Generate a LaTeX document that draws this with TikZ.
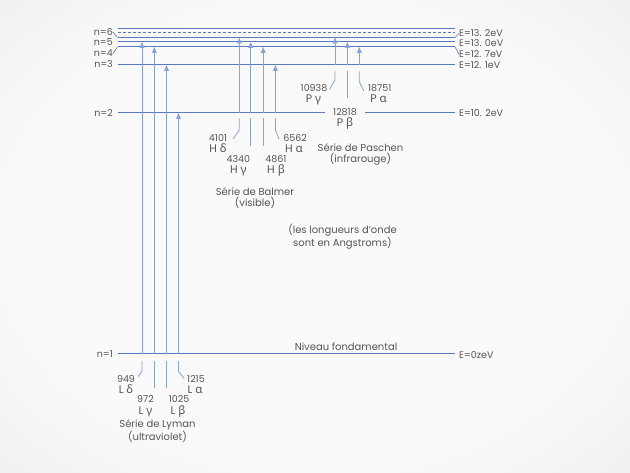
\documentclass[tikz,border=0pt]{standalone}
\usepackage{fontspec}
\setmainfont{Poppins}
\newfontfamily\grk{Noto Sans}
\usetikzlibrary{arrows.meta}
\definecolor{lvl}{HTML}{5A7ABD}
\definecolor{arr}{HTML}{86A4DB}
\definecolor{txt}{HTML}{555555}
\definecolor{bgA}{HTML}{FAFAFA}
\definecolor{bgB}{HTML}{ECECEC}
\definecolor{bgC}{HTML}{C9C9C9}
\pgfdeclareradialshading{vign}{\pgfpoint{0bp}{0bp}}{color(0bp)=(bgA); color(24bp)=(bgA); color(40bp)=(bgB); color(50bp)=(bgC)}
\newcommand{\gk}[1]{{\grk\fontsize{11.5}{11}\selectfont #1}}
\begin{document}
\begin{tikzpicture}[x=1pt,y=-1pt,
  lv/.style={draw=lvl,line width=1pt},
  tk/.style={draw=lvl,line width=0.6pt},
  ar/.style={draw=arr,line width=1pt,-{Triangle[length=6pt,width=4.8pt]}},
  ld/.style={draw=arr,line width=0.8pt},
  lab/.style={text=txt,font=\fontsize{9.5}{10}\selectfont,inner sep=0pt,text height=6.5pt,text depth=0pt},
  sym/.style={text=txt,font=\fontsize{11}{11}\selectfont,inner sep=0pt,text height=7pt,text depth=1pt},
  ttl/.style={text=txt,font=\fontsize{10}{11}\selectfont,inner sep=0pt,align=center}]
\shade[shading=vign] (0,0) rectangle (630,473);
\useasboundingbox (0,0) rectangle (630,473);

% energy levels
\foreach \n/\y in {top/29,inf/33,six/37.5,five/42,four/47,three/65,two/113,one/354}{
  \coordinate (\n L) at (117.5,\y);
  \coordinate (\n R) at (455,\y);
}
\coordinate (g1) at (325,113);
\coordinate (g2) at (365,113);
\draw[lv] (topL) -- (topR);
\draw[lv,dash pattern=on 3pt off 2pt] (infL) -- (infR);
\draw[lv] (sixL) -- (sixR);
\draw[lv] (fiveL) -- (fiveR);
\draw[lv] (fourL) -- (fourR);
\draw[lv] (threeL) -- (threeR);
\draw[lv] (twoL) -- (g1);
\draw[lv] (g2) -- (twoR);
\draw[lv] (oneL) -- (oneR);

% left labels
\node[lab,anchor=east] (n6) at (113,32) {n=6};
\node[lab,anchor=east] (n5) at (113,42.5) {n=5};
\node[lab,anchor=east] (n4) at (113,53.5) {n=4};
\node[lab,anchor=east] (n3) at (113,64.5) {n=3};
\node[lab,anchor=east] (n2) at (113,113) {n=2};
\node[lab,anchor=east] (n1) at (113,354.5) {n=1};
\draw[tk] (n6.east) -- (sixL);
\draw[tk] (n4.east) -- (fourL);

% right labels
\node[lab,anchor=west] (e6) at (459,33.5) {E=13. 2eV};
\node[lab,anchor=west] (e5) at (459,43.5) {E=13. 0eV};
\node[lab,anchor=west] (e4) at (459,54) {E=12. 7eV};
\node[lab,anchor=west] (e3) at (459,65) {E=12. 1eV};
\node[lab,anchor=west] (e2) at (459,113) {E=10. 2eV};
\node[lab,anchor=west] (e1) at (459,355.5) {E=0zeV};
\draw[tk] (sixR) -- (e6.west);
\draw[tk] (fourR) -- (e4.west);

% Lyman series
\coordinate (Ld) at (142,354);
\coordinate (Lg) at (154.3,354);
\coordinate (Lb) at (166.5,354);
\coordinate (La) at (178.5,354);
\draw[ar] (Ld) -- (Ld |- fiveL);
\draw[ar] (Lg) -- (Lg |- fourL);
\draw[ar] (Lb) -- (Lb |- threeL);
\draw[ar] (La) -- (La |- twoL);
\node[lab] (w949) at (126,379.5) {949};
\node[sym] (s949) at (126,391) {L \gk{δ}};
\node[lab] (w972) at (145.5,399.5) {972};
\node[sym] (s972) at (145.5,411) {L \gk{γ}};
\node[lab] (w1025) at (179,399.5) {1025};
\node[sym] (s1025) at (178,411) {L \gk{β}};
\node[lab] (w1215) at (196,379.5) {1215};
\node[sym] (s1215) at (195,391) {L \gk{α}};
\draw[ld] ([yshift=-7pt]Ld) -- ([yshift=-17.5pt]Ld) -- ([xshift=3pt,yshift=-0.5pt]w949.north east);
\draw[ld] ([yshift=-7pt]Lg) -- ([yshift=-34pt]Lg);
\draw[ld] ([yshift=-7pt]Lb) -- ([yshift=-34pt]Lb);
\draw[ld] ([yshift=-7pt]La) -- ([yshift=-17.5pt]La) -- ([xshift=-3pt,yshift=-2pt]w1215.north west);
\node[ttl] (lyman) at (157.5,431) {Série de Lyman\\(ultraviolet)};

% Balmer series
\coordinate (Hd) at (239.3,113);
\coordinate (Hg) at (250.7,113);
\coordinate (Hb) at (263.2,113);
\coordinate (Ha) at (275.4,113);
\draw[ar] (Hd) -- (Hd |- sixL);
\draw[ar] (Hg) -- (Hg |- fiveL);
\draw[ar] (Hb) -- (Hb |- fourL);
\draw[ar] (Ha) -- (Ha |- threeL);
\node[lab] (w4101) at (218,138) {4101};
\node[sym] (s4101) at (218,149.5) {H \gk{δ}};
\node[lab] (w4340) at (238.3,159.5) {4340};
\node[sym] (s4340) at (238.3,171) {H \gk{γ}};
\node[lab] (w4861) at (276,159.5) {4861};
\node[sym] (s4861) at (276,171) {H \gk{β}};
\node[lab] (w6562) at (295,138) {6562};
\node[sym] (s6562) at (294,149.5) {H \gk{α}};
\draw[ld] ([yshift=-5.5pt]Hd) -- ([yshift=-17pt]Hd) -- ([xshift=6pt,yshift=-1pt]w4101.east);
\draw[ld] ([yshift=-5.5pt]Hg) -- ([yshift=-33.5pt]Hg);
\draw[ld] ([yshift=-5.5pt]Hb) -- ([yshift=-33.5pt]Hb);
\draw[ld] ([yshift=-5.5pt]Ha) -- ([yshift=-17pt]Ha) -- ([xshift=-4pt,yshift=-1pt]w6562.west);
\node[ttl] (balmer) at (255,198) {Série de Balmer\\(visible)};

% Paschen series
\coordinate (Pg) at (335,65);
\coordinate (Pb) at (347.3,65);
\coordinate (Pa) at (359.3,65);
\draw[ar] (Pg) -- (Pg |- sixL);
\draw[ar] (Pb) -- (Pb |- fiveL);
\draw[ar] (Pa) -- (Pa |- fourL);
\node[lab] (w10938) at (314,88.5) {10938};
\node[sym] (s10938) at (313.5,100) {P \gk{γ}};
\node[lab] (w18751) at (379.7,88.5) {18751};
\node[sym] (s18751) at (378.5,100) {P \gk{α}};
\node[lab] (w12818) at (345,112.5) {12818};
\node[sym] (s12818) at (345,124) {P \gk{β}};
\draw[ld] ([yshift=-6.5pt]Pg) -- ([yshift=-15pt]Pg) -- ([xshift=2pt,yshift=-1pt]w10938.east);
\draw[ld] ([yshift=-6.5pt]Pb) -- ([yshift=-33.3pt]Pb);
\draw[ld] ([yshift=-6.5pt]Pa) -- ([yshift=-16.7pt]Pa) -- ([xshift=-4pt,yshift=-2.5pt]w18751.west);
\node[ttl] (paschen) at (360.5,154) {Série de Paschen\\(infrarouge)};

% notes
\node[ttl] (note) at (342.5,237) {(les longueurs d'onde\\sont en Angstroms)};
\node[ttl] (fond) at (346,346.7) {Niveau fondamental};
\end{tikzpicture}
\end{document}
